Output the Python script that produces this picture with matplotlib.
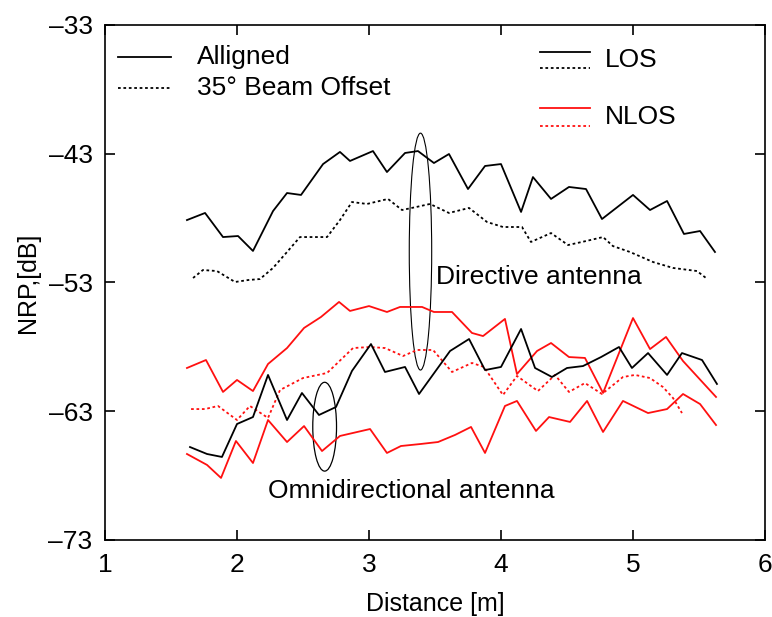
import matplotlib
matplotlib.use("Agg")
import matplotlib.pyplot as plt
from matplotlib.patches import Ellipse

plt.rcParams['font.family'] = ['Liberation Sans', 'DejaVu Sans']

# Directive antenna, LOS, aligned (black solid)
dir_los_al_x = [1.621, 1.758, 1.894, 2.008, 2.121, 2.273, 2.379, 2.485, 2.652, 2.780, 2.856, 3.030,
                3.136, 3.273, 3.371, 3.492, 3.606, 3.750, 3.879, 4.000, 4.152, 4.242, 4.379, 4.515,
                4.644, 4.765, 5.000, 5.129, 5.258, 5.386, 5.508, 5.621]
dir_los_al_y = [-48.15, -47.6, -49.47, -49.39, -50.55, -47.45, -46.05, -46.2, -43.8, -42.86, -43.56, -42.79,
                -44.42, -42.94, -42.79, -43.72, -43.02, -45.74, -43.95, -43.8, -47.52, -44.81, -46.51, -45.58,
                -45.74, -48.07, -46.2, -47.37, -46.67, -49.23, -49.0, -50.63]

# Directive antenna, LOS, 35 deg offset (black dotted)
dir_los_off_x = [1.667, 1.742, 1.848, 1.985, 2.083, 2.174, 2.273, 2.379, 2.477, 2.576, 2.682, 2.780,
                 2.871, 2.985, 3.144, 3.250, 3.356, 3.462, 3.606, 3.758, 3.894, 4.015, 4.159, 4.227,
                 4.379, 4.508, 4.644, 4.773, 4.848, 4.977, 5.152, 5.303, 5.485, 5.553]
dir_los_off_y = [-52.65, -52.03, -52.11, -52.96, -52.81, -52.73, -51.87, -50.63, -49.47, -49.47, -49.47, -48.15,
                 -46.75, -46.9, -46.51, -47.37, -47.14, -46.9, -47.6, -47.21, -48.3, -48.69, -48.69, -49.85,
                 -49.16, -50.09, -49.78, -49.47, -50.17, -50.63, -51.41, -51.87, -52.11, -52.65]

# Directive antenna, NLOS, aligned (red solid)
dir_nlos_al_x = [1.621, 1.765, 1.894, 2.000, 2.121, 2.235, 2.379, 2.508, 2.636, 2.773, 2.856, 3.000,
                 3.136, 3.235, 3.402, 3.492, 3.629, 3.780, 3.864, 4.030, 4.121, 4.273, 4.379, 4.515,
                 4.636, 4.773, 5.000, 5.129, 5.250, 5.379, 5.629]
dir_nlos_al_y = [-59.64, -59.02, -61.5, -60.57, -61.43, -59.33, -58.09, -56.53, -55.68, -54.51, -55.21, -54.83,
                 -55.29, -54.9, -54.9, -55.29, -55.29, -56.92, -57.16, -55.83, -60.11, -58.32, -57.7, -58.79,
                 -58.86, -61.58, -55.76, -58.17, -57.23, -59.1, -61.89]

# Directive antenna, NLOS, 35 deg offset (red dotted)
dir_nlos_off_x = [1.652, 1.758, 1.856, 2.000, 2.098, 2.235, 2.326, 2.500, 2.682, 2.879, 3.008, 3.121,
                  3.258, 3.364, 3.485, 3.629, 3.780, 3.871, 4.015, 4.121, 4.280, 4.409, 4.515, 4.636,
                  4.765, 4.924, 5.015, 5.129, 5.227, 5.303, 5.371]
dir_nlos_off_y = [-62.83, -62.83, -62.59, -63.68, -62.59, -63.52, -61.35, -60.42, -60.03, -58.09, -58.01, -58.09,
                  -58.71, -58.24, -58.24, -59.95, -59.25, -59.56, -61.74, -60.26, -61.43, -60.18, -61.5, -60.81,
                  -61.66, -60.34, -60.18, -60.42, -61.12, -61.97, -63.14]

# Omnidirectional antenna, LOS (black solid)
omni_los_x = [1.644, 1.773, 1.886, 2.000, 2.121, 2.235, 2.379, 2.492, 2.621, 2.750, 2.871, 3.015,
              3.121, 3.273, 3.379, 3.614, 3.758, 3.879, 4.000, 4.152, 4.258, 4.386, 4.500, 4.621,
              4.758, 4.894, 4.992, 5.114, 5.258, 5.371, 5.523, 5.636]
omni_los_y = [-65.78, -66.32, -66.55, -63.99, -63.45, -60.18, -63.68, -61.58, -63.29, -62.67, -59.87, -57.78,
              -59.95, -59.56, -61.66, -58.32, -57.39, -59.8, -59.56, -56.61, -59.64, -60.34, -59.64, -59.49,
              -58.79, -58.01, -59.64, -58.48, -60.18, -58.48, -59.02, -60.88]

# Omnidirectional antenna, NLOS (red solid)
omni_nlos_x = [1.621, 1.773, 1.879, 1.992, 2.121, 2.235, 2.379, 2.508, 2.644, 2.780, 3.008, 3.136,
               3.242, 3.394, 3.523, 3.652, 3.773, 3.879, 4.030, 4.121, 4.265, 4.364, 4.523, 4.652,
               4.773, 4.924, 5.114, 5.258, 5.379, 5.508, 5.629]
omni_nlos_y = [-66.32, -67.17, -68.18, -65.31, -67.02, -63.68, -65.39, -64.15, -66.09, -64.92, -64.38, -66.24,
               -65.7, -65.54, -65.39, -64.84, -64.22, -66.24, -62.59, -62.2, -64.53, -63.45, -63.83, -62.2,
               -64.61, -62.2, -63.14, -62.83, -61.66, -62.44, -64.07]

x_ticks = [1, 2, 3, 4, 5, 6]
y_ticks = [-73, -63, -53, -43, -33]

W, H = 772, 617
fig = plt.figure(figsize=(W / 100, H / 100), dpi=100)
ax = fig.add_axes([105 / W, 1 - 540 / H, 660 / W, 515 / H])

lw = 1.3
dot = (0, (1.5, 1.5))
red = '#ff1010'
ax.plot(dir_los_al_x, dir_los_al_y, color='black', lw=lw)
ax.plot(dir_los_off_x, dir_los_off_y, color='black', lw=lw, linestyle=dot)
ax.plot(dir_nlos_al_x, dir_nlos_al_y, color=red, lw=lw)
ax.plot(dir_nlos_off_x, dir_nlos_off_y, color=red, lw=lw, linestyle=dot)
ax.plot(omni_los_x, omni_los_y, color='black', lw=lw)
ax.plot(omni_nlos_x, omni_nlos_y, color=red, lw=lw)

# annotation ellipses
ax.add_patch(Ellipse((3.39, -50.6), 0.17, 18.4, fill=False, edgecolor='black', lw=0.8))
ax.add_patch(Ellipse((2.664, -64.2), 0.18, 6.9, fill=False, edgecolor='black', lw=0.9))

fs = 19
ax.text(3.51, -52.6, 'Directive antenna', fontsize=fs, va='center', ha='left')
ax.text(2.235, -69.2, 'Omnidirectional antenna', fontsize=fs, va='center', ha='left')

# legend (drawn in axes fraction)
tr = ax.transAxes
ax.plot([0.02, 0.10], [0.938, 0.938], color='black', lw=lw, transform=tr)
ax.plot([0.02, 0.10], [0.878, 0.878], color='black', lw=lw, linestyle=dot, transform=tr)
ax.text(0.139, 0.938, 'Alligned', fontsize=fs, va='center', transform=tr)
ax.text(0.139, 0.878, '35° Beam Offset', fontsize=fs, va='center', transform=tr)

ax.plot([0.659, 0.735], [0.948, 0.948], color='black', lw=lw, transform=tr)
ax.plot([0.659, 0.735], [0.917, 0.917], color='black', lw=lw, linestyle=dot, transform=tr)
ax.text(0.758, 0.932, 'LOS', fontsize=fs, va='center', transform=tr)
ax.plot([0.659, 0.735], [0.839, 0.839], color=red, lw=lw, transform=tr)
ax.plot([0.659, 0.735], [0.804, 0.804], color=red, lw=lw, linestyle=dot, transform=tr)
ax.text(0.758, 0.822, 'NLOS', fontsize=fs, va='center', transform=tr)

ax.set_xlim(1, 6)
ax.set_ylim(-73, -33)
ax.set_xticks(x_ticks)
ax.set_yticks(y_ticks)
ax.set_xticklabels([str(v) for v in x_ticks])
ax.set_yticklabels(['\u2013' + str(-v) for v in y_ticks])
ax.tick_params(direction='in', length=7, width=1.2, labelsize=fs, top=True, right=True, pad=9)
for s in ax.spines.values():
    s.set_linewidth(1.2)
ax.set_xlabel('Distance [m]', fontsize=18, labelpad=11)
ax.set_ylabel('NRP,[dB]', fontsize=18, labelpad=6)

fig.savefig('out.png', dpi=100)
